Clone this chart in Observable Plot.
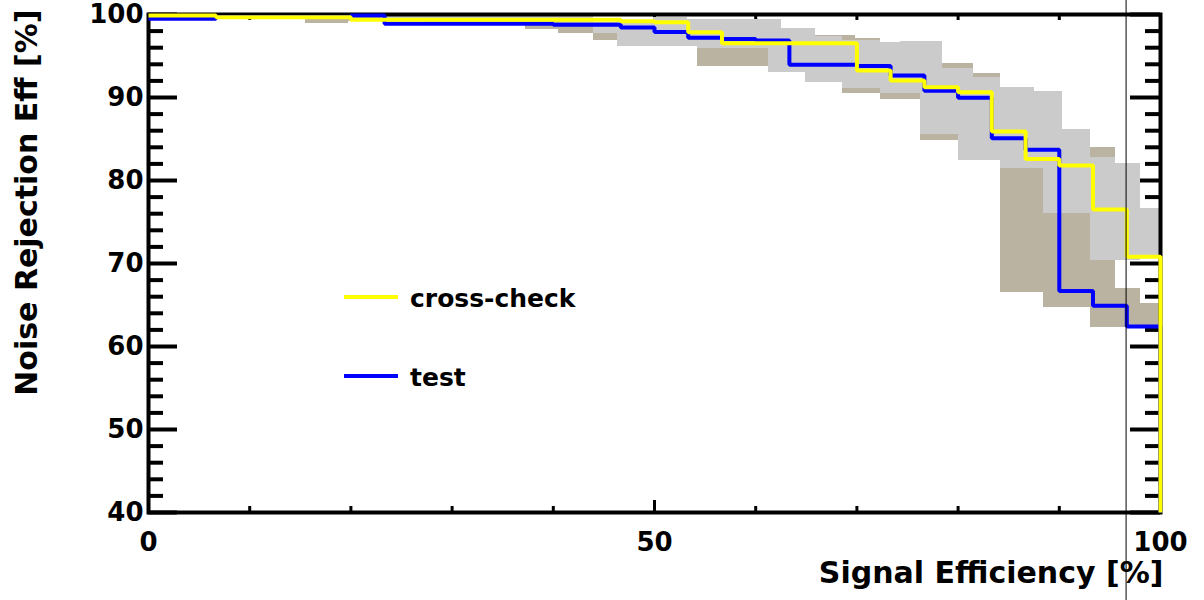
<!DOCTYPE html>
<html><head><meta charset="utf-8">
<script src="https://cdn.jsdelivr.net/npm/d3@7"></script>
<script src="https://cdn.jsdelivr.net/npm/@observablehq/plot@0.6"></script>
<style>body{margin:0;background:#fff;} svg{display:block}</style>
</head><body><div id="chart"></div>
<script>
// Signal efficiency bin edges [%]
const binEdges = [0, 3.33, 6.67, 10, 13.33, 16.67, 20, 23.33, 26.67, 30, 33.33, 36.67, 40, 43.33, 46.67, 50, 53.33, 56.67, 60, 63.33, 66.67, 70, 73.33, 76.67, 80, 83.33, 86.67, 90, 93.33, 96.67, 100];
// Noise rejection efficiency [%] per bin (last value: fall to the floor at 100 %)
const crossCheck = [99.88, 99.88, 99.68, 99.68, 99.68, 99.68, 99.36, 99.36, 99.36, 99.36, 99.36, 99.36, 99.36, 99.36, 99.2, 99.07, 97.87, 96.54, 96.54, 96.54, 96.54, 93.25, 92.05, 91.24, 90.64, 85.9, 82.6, 81.8, 76.5, 70.8, 40];
const test = [99.5, 99.5, 99.7, 99.7, 99.7, 99.7, 99.88, 98.9, 98.9, 98.9, 98.9, 98.9, 98.78, 98.78, 98.42, 97.9, 97.2, 97.05, 96.87, 93.94, 93.94, 93.8, 92.65, 90.8, 89.96, 85.1, 83.7, 66.7, 64.9, 62.4, 40];

// Uncertainty bands: [x from, x to, low, high]
const crossCheckBand = [
  [0, 23, 99.6, 99.75], [23, 27.4, 99.3, 99.75], [27.4, 44, 99.0, 99.7],
  [44, 46.3, 97.7, 98.7], [46.3, 49.9, 96.1, 99.2], [49.9, 53.3, 96.1, 99.65],
  [53.3, 54.2, 96.1, 99.4], [54.2, 61.3, 95.9, 99.4], [61.3, 62.5, 93.05, 99.4],
  [62.5, 64.9, 93.05, 98.3], [64.9, 65.9, 91.85, 98.3], [65.9, 68.6, 91.85, 97.3],
  [68.6, 72.3, 91.1, 96.9], [72.3, 74.3, 90.45, 96.6], [74.3, 76.3, 90.45, 96.7],
  [76.3, 78.5, 85.6, 96.7], [78.5, 80.0, 85.6, 93.5], [80.0, 81.5, 82.4, 93.5],
  [81.5, 84.2, 82.4, 92.4], [84.2, 87.5, 81.4, 91.25], [87.5, 88.4, 81.4, 90.76],
  [88.4, 90.3, 76.0, 90.76], [90.3, 93.1, 76.0, 86.2], [93.1, 95.6, 70.4, 82.8],
  [95.6, 98.0, 70.4, 82.0], [98.0, 100, 70.9, 76.6]
];
const testBand = [
  [0, 15.5, 99.5, 99.75], [15.5, 19.8, 98.9, 99.7], [19.8, 37.3, 99.1, 99.7],
  [37.3, 40.5, 98.25, 99.5], [40.5, 44, 97.7, 99.3], [44, 47.3, 96.85, 99.0],
  [47.3, 54.2, 96.3, 98.8], [54.2, 61.3, 93.7, 98.0], [61.3, 65.9, 93.2, 97.5],
  [65.9, 68.6, 92.0, 97.5], [68.6, 69.9, 90.5, 97.5], [69.9, 72.3, 90.5, 97.07],
  [72.3, 76.3, 89.75, 96.0], [76.3, 78.5, 84.8, 95.0], [78.5, 80.0, 84.8, 94.06],
  [80.0, 81.5, 83.0, 94.06], [81.5, 84.2, 83.0, 92.9], [84.2, 88.4, 66.55, 86.0],
  [88.4, 93.1, 64.7, 80.0], [93.1, 95.6, 62.3, 84.0], [95.6, 98.0, 62.3, 67.0],
  [98.0, 100, 62.3, 65.2]
];

// Axis ticks
const yLabelTicks = [40, 50, 60, 70, 80, 90, 100];
const yMinorTicks = [42, 44, 46, 48, 52, 54, 56, 58, 62, 64, 66, 68, 72, 74, 76, 78, 82, 84, 86, 88, 92, 94, 96, 98];
const xLabelTicks = [0, 50, 100];
const xMinorTicks = [10, 20, 30, 40, 60, 70, 80, 90];
const cursorX = [96.6];

const seriesNames = ["cross-check", "test"];
const seriesColors = ["#ffff00", "#0000ff"];

const crossData = binEdges.map((x, i) => ({x, y: crossCheck[i]}));
const testData = binEdges.map((x, i) => ({x, y: test[i]}));
const toRect = b => ({x1: b[0], x2: b[1], y1: b[2], y2: b[3]});

const W = 1204, H = 600, ML = 148, MR = 44, MT = 14, MB = 88;
const IW = W - ML - MR, IH = H - MT - MB;

const plot = Plot.plot({
  width: W, height: H,
  marginLeft: ML, marginRight: MR, marginTop: MT, marginBottom: MB,
  style: {fontFamily: "DejaVu Sans", background: "white", color: "black"},
  x: {domain: [0, 100]},
  y: {domain: [40, 100]},
  marks: [
    // ticks (inward, all four sides)
    Plot.ruleY(yLabelTicks, {insetRight: IW - 29, stroke: "black", strokeWidth: 4}),
    Plot.ruleY(yMinorTicks, {insetRight: IW - 15, stroke: "black", strokeWidth: 4}),
    Plot.ruleY(yLabelTicks, {insetLeft: IW - 30, stroke: "black", strokeWidth: 4}),
    Plot.ruleY(yMinorTicks, {insetLeft: IW - 15, stroke: "black", strokeWidth: 4}),
    Plot.ruleX(xLabelTicks, {insetTop: IH - 12, stroke: "black", strokeWidth: 3}),
    Plot.ruleX(xMinorTicks, {insetTop: IH - 6, stroke: "black", strokeWidth: 3}),
    Plot.ruleX(xLabelTicks, {insetBottom: IH - 12, stroke: "black", strokeWidth: 3}),
    Plot.ruleX(xMinorTicks, {insetBottom: IH - 6, stroke: "black", strokeWidth: 3}),
    // bands
    Plot.rect(testBand.map(toRect), {x1: "x1", x2: "x2", y1: "y1", y2: "y2", fill: "#bab3a1", shapeRendering: "crispEdges"}),
    Plot.rect(crossCheckBand.map(toRect), {x1: "x1", x2: "x2", y1: "y1", y2: "y2", fill: "#cbcbcb", shapeRendering: "crispEdges"}),
    Plot.frame({stroke: "black", strokeWidth: 4}),
    // curves
    Plot.line(testData, {x: "x", y: "y", curve: "step-after", stroke: seriesColors[1], strokeWidth: 4, strokeLinejoin: "miter", strokeLinecap: "butt"}),
    Plot.line(crossData, {x: "x", y: "y", curve: "step-after", stroke: seriesColors[0], strokeWidth: 4, strokeLinejoin: "miter", strokeLinecap: "butt"}),
    // axes labels
    Plot.axisY({ticks: yLabelTicks, tickSize: 0, tickPadding: 5, fontSize: 26, fontWeight: "bold", label: null, anchor: "left"}),
    Plot.axisX({ticks: xLabelTicks, tickSize: 0, tickPadding: 20, fontSize: 26, fontWeight: "bold", label: null, anchor: "bottom"}),
    Plot.text(["Signal Efficiency [%]"], {frameAnchor: "bottom-right", textAnchor: "end", dx: 3, dy: 70, fontSize: 30, fontWeight: "bold", fill: "black"}),
    Plot.text(["Noise Rejection Eff [%]"], {frameAnchor: "top-left", rotate: -90, textAnchor: "end", dx: -133, dy: -5, fontSize: 30, fontWeight: "bold", fill: "black"}),
    // stray cursor line
    Plot.ruleX(cursorX, {stroke: "black", strokeWidth: 1, insetTop: -MT, insetBottom: -MB})
  ]
});

// Legend
const svg = d3.select(plot);
const leg = svg.append("g").attr("font-family", "DejaVu Sans").attr("font-weight", "bold").attr("font-size", 25).attr("text-anchor", "start");
const legY = [297, 376];
seriesNames.forEach((name, i) => {
  leg.append("line").attr("x1", 344).attr("x2", 398).attr("y1", legY[i]).attr("y2", legY[i])
    .attr("stroke", seriesColors[i]).attr("stroke-width", 4);
  leg.append("text").attr("x", 410).attr("y", legY[i] + 9.5).attr("fill", "black").attr("text-anchor", "start").text(name);
});

document.getElementById("chart").appendChild(plot);
</script>
</body></html>
